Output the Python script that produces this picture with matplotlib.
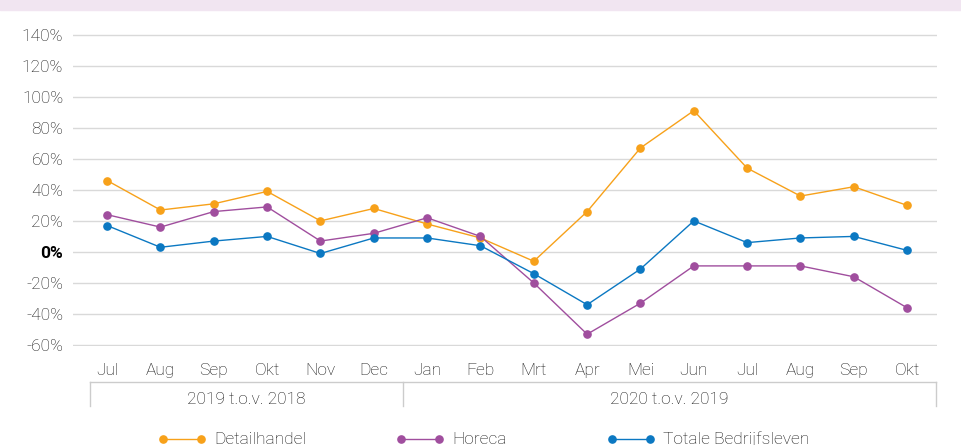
import matplotlib
matplotlib.use("Agg")
import matplotlib.pyplot as plt
from matplotlib.lines import Line2D
from matplotlib.patches import Rectangle

plt.rcParams['font.family'] = ['Roboto', 'DejaVu Sans']

months = ['Jul', 'Aug', 'Sep', 'Okt', 'Nov', 'Dec', 'Jan', 'Feb',
          'Mrt', 'Apr', 'Mei', 'Jun', 'Jul', 'Aug', 'Sep', 'Okt']
groups = ['2019 t.o.v. 2018', '2020 t.o.v. 2019']
detailhandel = [46, 27, 31, 39, 20, 28, 18, 9, -6, 26, 67, 91, 54, 36, 42, 30]
horeca = [24, 16, 26, 29, 7, 12, 22, 10, -20, -53, -33, -9, -9, -9, -16, -36]
totaal = [17, 3, 7, 10, -1, 9, 9, 4, -14, -34, -11, 20, 6, 9, 10, 1]
yticks = [-60, -40, -20, 0, 20, 40, 60, 80, 100, 120, 140]

series = [
    ('Detailhandel', detailhandel, '#f7a11a'),
    ('Horeca', horeca, '#a04e9e'),
    ('Totale Bedrijfsleven', totaal, '#0b78c2'),
]

W, H = 961, 445
FS = 12.5
TXT = '#151515'
fig = plt.figure(figsize=(W / 100, H / 100), dpi=100)

# lavender band at the top
fig.patches.append(Rectangle((0, 1 - 10 / H), 1, 10 / H, transform=fig.transFigure,
                             color='#f1e5f1', zorder=0))

ax = fig.add_axes([73 / W, 1 - 346 / H, (937 - 73) / W, (346 - 33.7) / H])
x = list(range(len(months)))

for label, vals, col in series:
    ax.plot(x, vals, color=col, lw=1.0, marker='o', ms=5.2, zorder=3, clip_on=False)

ax.set_ylim(-60.6, 140.6)
ax.set_xlim(-0.64, 15.56)
ax.set_yticks(yticks)
ax.set_yticklabels([f'{v}%' for v in yticks], fontsize=FS, color=TXT,
                   fontweight='light')
ax.get_yticklabels()[yticks.index(0)].set_fontweight('bold')
ax.get_yticklabels()[yticks.index(0)].set_color('black')
ax.set_xticks(x)
ax.set_xticklabels(months, fontsize=FS, color=TXT, fontweight='light')
ax.tick_params(length=0, axis='y', pad=7)
ax.tick_params(length=0, axis='x', pad=12)
ax.grid(axis='y', color='#d9d9d9', lw=1.0)
ax.set_axisbelow(True)
for s in ax.spines.values():
    s.set_visible(False)

# group box under the month labels
def fx(px):
    return px / W

def fy(py):
    return 1 - py / H

box = '#cccccc'
fig.add_artist(Line2D([fx(90), fx(936)], [fy(382), fy(382)], color=box, lw=1))
for px in (90, 403, 936):
    fig.add_artist(Line2D([fx(px), fx(px)], [fy(382), fy(406)], color=box, lw=1))
fig.text(fx(246), fy(400), groups[0], ha='center', va='center', fontsize=FS,
         color=TXT, fontweight='light')
fig.text(fx(669), fy(400), groups[1], ha='center', va='center', fontsize=FS,
         color=TXT, fontweight='light')

# legend along the bottom edge
legend_x = [163, 401, 612]
for (label, vals, col), lx in zip(series, legend_x):
    fig.add_artist(Line2D([fx(lx), fx(lx + 38)], [fy(439), fy(439)], color=col, lw=1.0,
                          marker='o', ms=5.2, markevery=[0, 1]))
    fig.text(fx(lx + 51), fy(439), label, ha='left', va='center', fontsize=FS,
             color=TXT, fontweight='light')

fig.savefig('out.png', dpi=100)
